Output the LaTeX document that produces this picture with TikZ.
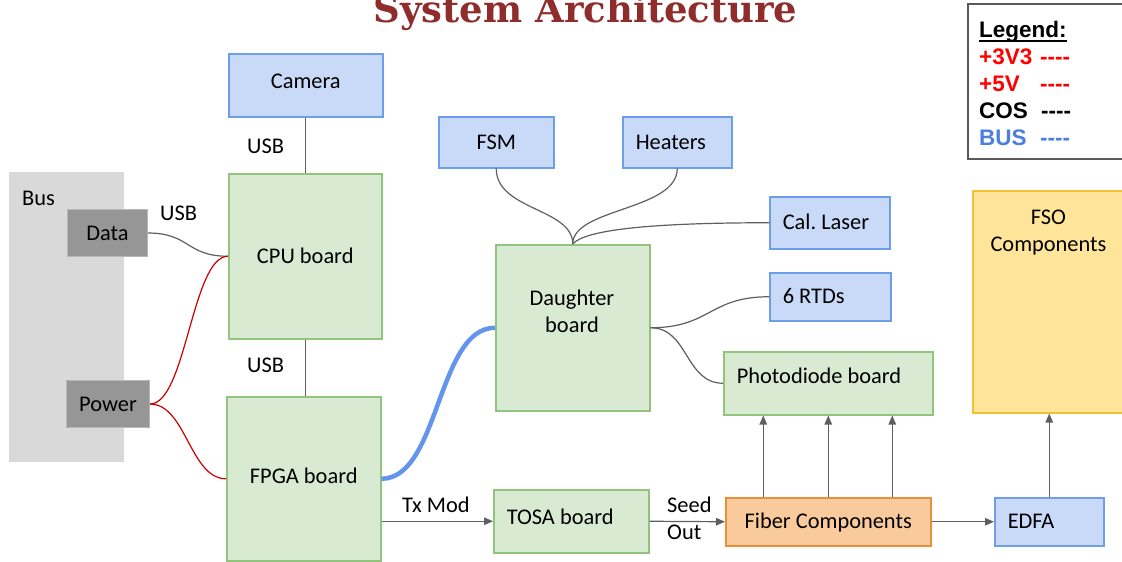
\documentclass[tikz,border=0pt]{standalone}
\usepackage{fontspec}
\usetikzlibrary{arrows.meta}
\newfontfamily\bodyfont{Carlito}
\newfontfamily\legendfont{Liberation Sans}
\newfontfamily\titlefont{DejaVu Serif}
\frenchspacing

\definecolor{blueFill}{HTML}{C9DAF8}
\definecolor{blueLine}{HTML}{6D9EEB}
\definecolor{greenFill}{HTML}{D9EAD3}
\definecolor{greenLine}{HTML}{93C47D}
\definecolor{orangeFill}{HTML}{F9CB9C}
\definecolor{orangeLine}{HTML}{E69138}
\definecolor{yellowFill}{HTML}{FFE599}
\definecolor{yellowLine}{HTML}{F1C232}
\definecolor{panelGray}{HTML}{D9D9D9}
\definecolor{portFill}{HTML}{969696}
\definecolor{portLine}{HTML}{B7B7B7}
\definecolor{wireGray}{HTML}{5F5F5F}
\definecolor{powerRed}{HTML}{CC0000}
\definecolor{busBlue}{HTML}{6495ED}
\definecolor{titleRed}{HTML}{8F2D2D}
\definecolor{legBlue}{HTML}{4A7FE0}

\begin{document}
\begin{tikzpicture}[x=1pt, y=-1pt,
  bodytext/.style={font=\bodyfont\fontsize{22.4}{26.4}\selectfont},
  box/.style={bodytext, draw, line width=1.5pt, anchor=north west, inner sep=0pt,
    text height=14pt, text depth=0pt, align=center},
  lbox/.style={box, align=flush left, inner xsep=13pt},
  bluebox/.style={box, fill=blueFill, draw=blueLine},
  greenbox/.style={box, fill=greenFill, draw=greenLine},
  lbluebox/.style={lbox, fill=blueFill, draw=blueLine},
  lgreenbox/.style={lbox, fill=greenFill, draw=greenLine},
  port/.style={box, fill=portFill, draw=portLine, line width=1pt},
  lbl/.style={bodytext, inner sep=0pt, anchor=base west},
  wire/.style={draw=wireGray, line width=1.2pt},
  pwr/.style={draw=powerRed, line width=1.2pt},
  bus/.style={draw=busBlue, line width=4.5pt},
  arr/.style={draw=wireGray, line width=1.2pt, -{Triangle[length=9pt,width=7.5pt]}},
  legtext/.style={font=\legendfont\bfseries\fontsize{22.5}{26}\selectfont, inner sep=0pt, anchor=base west},
]
\useasboundingbox (0,0) rectangle (1122,562);

% title
\node[font=\titlefont\bfseries\fontsize{37}{44}\selectfont, text=titleRed, inner sep=0pt, anchor=base]
  (title) at (585.5,23) {System Architecture};

% legend
\node[draw=black!65, line width=2pt, anchor=north west, minimum width=160pt, minimum height=155pt, inner sep=0pt]
  (legend) at (967,3) {};
\node[legtext] (lg) at (979,37) {Legend:};
\draw[line width=1.6pt] ([yshift=-4pt]lg.base west) -- ([yshift=-4pt]lg.base east);
\node[legtext, text=red] (lg1) at (979,64) {\makebox[61pt][l]{+3V3}-{}-{}-{}-};
\node[legtext, text=red] (lg2) at (979,91) {\makebox[61pt][l]{+5V}-{}-{}-{}-};
\node[legtext, text=black] (lg3) at (979,118) {\makebox[62pt][l]{COS}-{}-{}-{}-};
\node[legtext, text=legBlue] (lg4) at (979,145) {\makebox[61pt][l]{BUS}-{}-{}-{}-};

% bus panel
\node[fill=panelGray, anchor=north west, minimum width=115pt, minimum height=290pt, inner sep=0pt] (bus) at (9,172) {};
\node[lbl] (buslbl) at (22,205) {Bus};
\node[port, minimum width=80pt, minimum height=47pt, text depth=-2pt] (data) at (67,209) {Data};
\node[port, minimum width=83pt, minimum height=47pt] (power) at (66,380) {Power};

% boards and peripherals
\node[bluebox, minimum width=154pt, minimum height=63pt, text depth=8pt] (cam) at (228,53) {Camera};
\node[greenbox, minimum width=153pt, minimum height=165pt] (cpu) at (228,173) {CPU board};
\node[greenbox, minimum width=154pt, minimum height=164pt, text depth=4pt] (fpga) at (226,396) {FPGA board};
\node[bluebox, minimum width=115pt, minimum height=51pt] (fsm) at (438,116) {FSM};
\node[lbluebox, text width=83pt, minimum height=51pt] (heat) at (622,116) {Heaters};
\node[lbluebox, text width=94pt, minimum height=52pt] (cal) at (769,196) {Cal. Laser};
\node[lbluebox, text width=95pt, minimum height=48pt] (rtd) at (769,272) {6 RTDs};
\node[greenbox, minimum width=154pt, minimum height=166pt] (dau) at (495,244) {};
\node[bodytext, align=center, inner sep=0pt, anchor=north] (daulbl) at (572,290) {Daughter\\board};
\node[lgreenbox, text width=183pt, minimum height=63pt, text depth=13pt] (pd) at (723,351) {Photodiode board};
\node[box, fill=yellowFill, draw=yellowLine, minimum width=153pt, minimum height=222pt] (fso) at (972,190) {};
\node[bodytext, align=center, inner sep=0pt, anchor=north] (fsolbl) at (1048.5,210) {FSO\\Components};
\node[lgreenbox, text width=129pt, minimum height=63pt, text depth=8pt] (tosa) at (493,489) {TOSA board};
\node[box, fill=orangeFill, draw=orangeLine, minimum width=205pt, minimum height=48pt] (fiber) at (725,497) {Fiber Components};
\node[lbluebox, text width=83pt, minimum height=48pt, text depth=-3pt] (edfa) at (994,497) {EDFA};

% plain links
\draw[wire] (cam.south) -- (cam.south |- cpu.north);
\draw[wire] (cpu.south) -- (cpu.south |- fpga.north);
\node[lbl] (usb1) at (247,153) {USB};
\node[lbl] (usb2) at (247,372) {USB};
\node[lbl] (usb3) at (160,220) {USB};
\draw[wire] (data.east) .. controls +(42,0) and +(-42,0) .. (cpu.west);

% power feeds
\draw[pwr] (power.east) .. controls +(36,0) and +(-36,0) .. (cpu.west);
\draw[pwr] (power.east) .. controls +(36,0) and +(-36,0) .. (fpga.west);

% bus link to daughter board
\draw[bus] (fpga.east) .. controls +(58,0) and +(-58,0) .. (dau.west);

% daughter board harness
\draw[wire] (fsm.south) .. controls +(0,42) and +(0,-36) .. (dau.north);
\draw[wire] (heat.south) .. controls +(0,42) and +(0,-36) .. (dau.north);
\draw[wire] (cal.west) .. controls +(-120,0) and +(12,-14) .. (dau.north);
\draw[wire] (dau.east) .. controls +(60,0) and +(-60,0) .. (rtd.west);
\draw[wire] (dau.east) .. controls +(38,0) and +(-38,0) .. (pd.west);

% optical chain
\draw[arr] (fpga.east |- tosa.west) -- (tosa.west);
\node[lbl] (txmod) at (402,512) {Tx Mod};
\draw[arr] (tosa.east) -- (fiber.west);
\node[lbl, align=left, anchor=north west] (seed) at (667,497) {Seed\\Out};
\draw[arr] (fiber.east) -- (edfa.west);
\draw[arr] ([xshift=-65pt]fiber.north) -- ([xshift=-65pt]pd.south);
\draw[arr] (fiber.north) -- (pd.south);
\draw[arr] ([xshift=64pt]fiber.north) -- ([xshift=64pt]pd.south);
\draw[arr] (edfa.north) -- (fso.south);
\end{tikzpicture}
\end{document}
